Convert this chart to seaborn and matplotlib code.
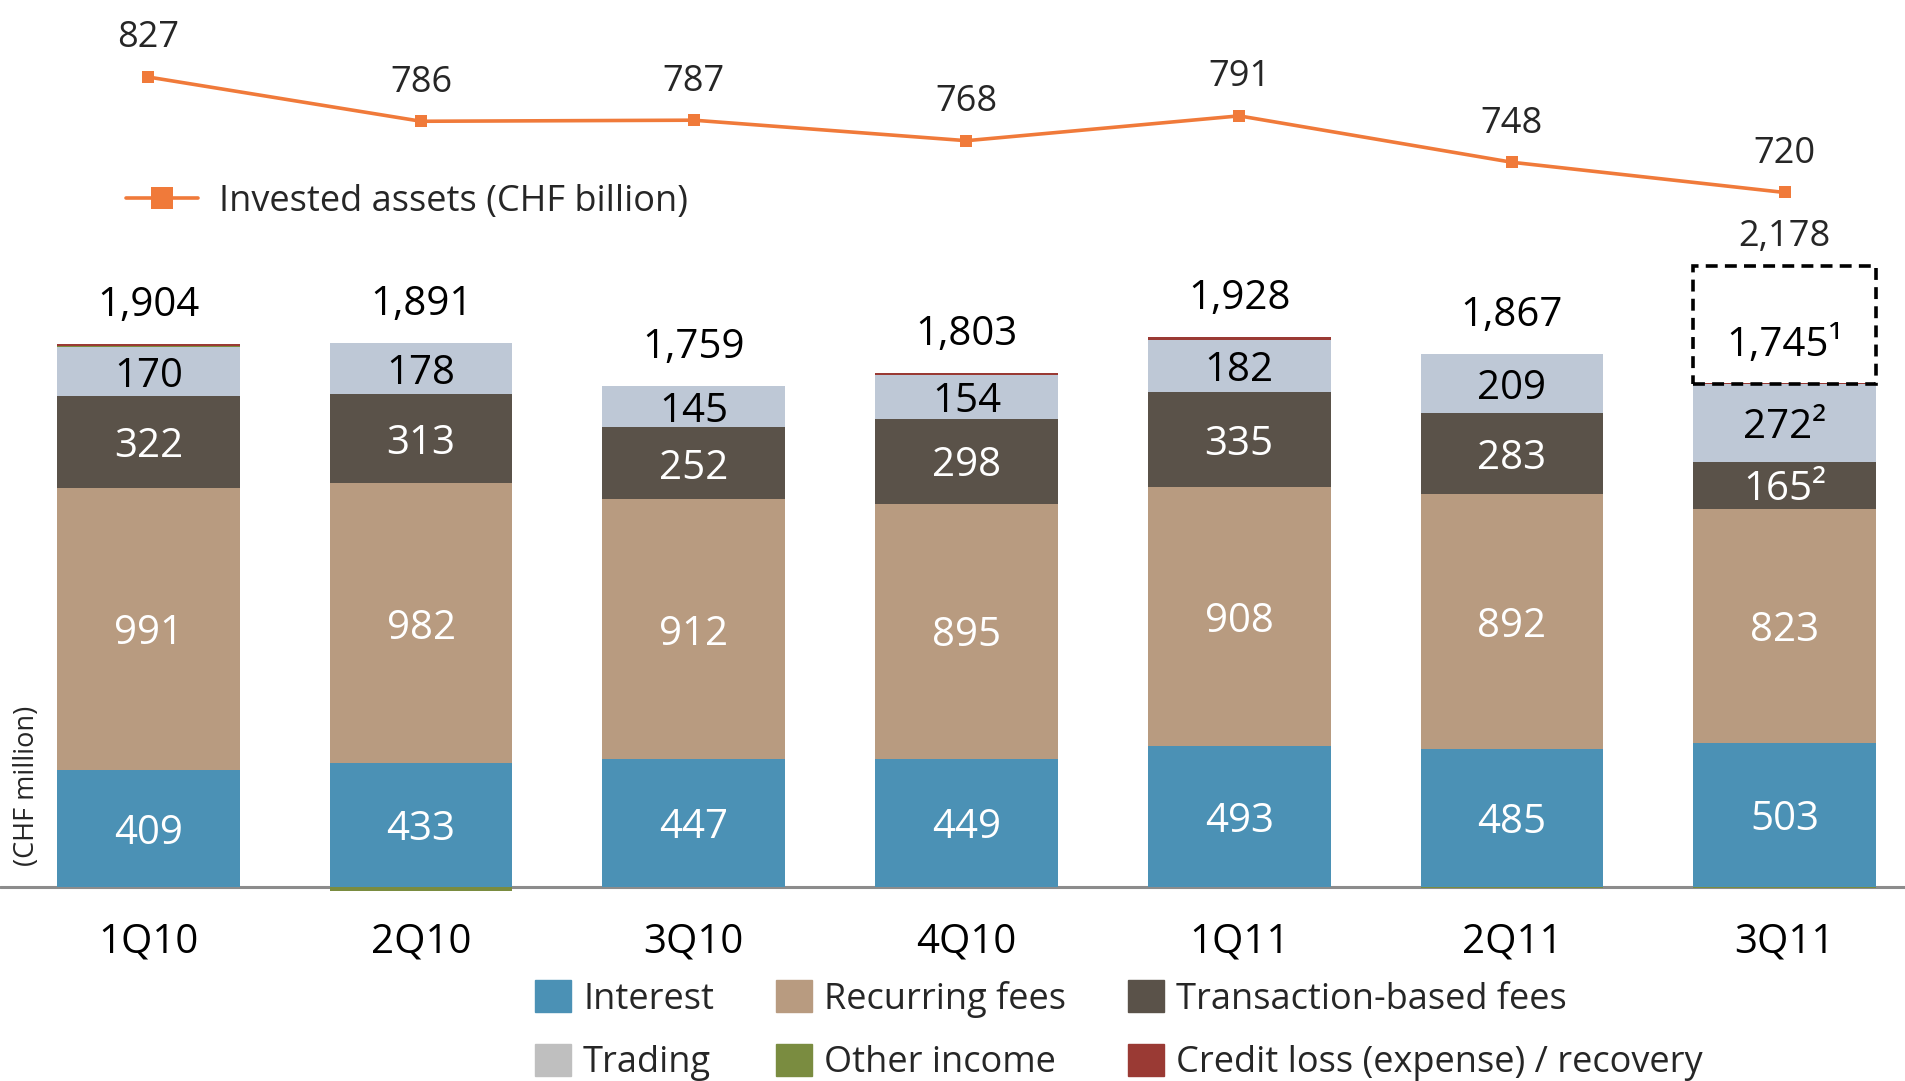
import numpy as np
import matplotlib
matplotlib.use("Agg")
import matplotlib.pyplot as plt
from matplotlib.patches import Patch
import seaborn as sns

# data (CHF million, invested assets in CHF billion)
quarters = ["1Q10", "2Q10", "3Q10", "4Q10", "1Q11", "2Q11", "3Q11"]
interest = [409, 433, 447, 449, 493, 485, 503]
recurring = [991, 982, 912, 895, 908, 892, 823]
transaction = [322, 313, 252, 298, 335, 283, 165]
trading = [170, 178, 145, 154, 182, 209, 272]
other_income = [3, -15, 0, 0, 0, -4, -4]
credit_loss = [9, 0, 0, 7, 10, 0, 3]
totals = [1904, 1891, 1759, 1803, 1928, 1867, 1745]
adjusted_total_3q11 = 2178
invested = [827, 786, 787, 768, 791, 748, 720]
footnote_total = ["", "", "", "", "", "", "1"]
footnote_seg = ["", "", "", "", "", "", "2"]

c_interest = "#4B91B5"
c_recurring = "#B89B80"
c_transaction = "#5A5249"
c_trading = "#BEC8D6"
c_trading_leg = "#BFBFBF"
c_other = "#7A8C40"
c_credit = "#9A3A34"
c_line = "#F07A3A"

sns.set_theme(style="white")
plt.rcParams["font.family"] = ["Open Sans", "DejaVu Sans"]

fig = plt.figure(figsize=(19.06, 10.81), dpi=100)
ax = fig.add_axes([0, 0.1742, 1, 0.8258])

series = [
    (interest, c_interest, "white"),
    (recurring, c_recurring, "white"),
    (transaction, c_transaction, "white"),
    (trading, c_trading, "black"),
    (other_income, c_other, None),
    (credit_loss, c_credit, None),
]

pos = np.zeros(len(quarters))
neg = np.zeros(len(quarters))
for vals, col, txt in series:
    v = np.array(vals, dtype=float)
    bottom = np.where(v >= 0, pos, neg)
    sns.barplot(x=quarters, y=v, bottom=bottom, color=col, saturation=1,
                width=0.67, linewidth=0, errorbar=None, ax=ax)
    if txt is not None:
        for i, val in enumerate(vals):
            label = f"{val}"
            if footnote_seg[i] and col in (c_trading, c_transaction):
                label += "\u00b2"
            ax.text(i, bottom[i] + val / 2, label, ha="center",
                    va="center_baseline", color=txt, fontsize=29)
    pos = np.where(v >= 0, pos + v, pos)
    neg = np.where(v < 0, neg + v, neg)

# total labels
stack_top = np.array(interest) + np.array(recurring) + np.array(transaction) + np.array(trading)
for i, t in enumerate(totals):
    if footnote_total[i]:
        continue
    ax.annotate(f"{t:,}", (i, pos[i]), xytext=(0, 31), textcoords="offset points",
                ha="center", va="center_baseline", fontsize=29, color="black")

# 3Q11 dashed box up to the adjusted total
i = len(quarters) - 1
ax.bar(i, adjusted_total_3q11 - stack_top[i], bottom=stack_top[i], width=0.67,
       fill=False, edgecolor="black", linewidth=2.6, linestyle=(0, (3.3, 2)))
ax.text(i, (stack_top[i] + adjusted_total_3q11) / 2 - 55, f"{totals[i]:,}\u00b9",
        ha="center", va="center_baseline", fontsize=29, color="black")
ax.annotate(f"{adjusted_total_3q11:,}", (i, adjusted_total_3q11), xytext=(0, 24),
            textcoords="offset points", ha="center", va="center_baseline",
            fontsize=26)

ax.axhline(0, color="#8C8C8C", linewidth=2.2, zorder=0.5)
ax.set_xlim(-0.544, 6.445)
ax.set_ylim(-20, 3109)
ax.set_xlabel("")
ax.set_ylabel("")
ax.set_yticks([])
ax.tick_params(axis="x", length=0, pad=21, labelsize=29, labelcolor="black")
for s in ax.spines.values():
    s.set_visible(False)

# invested assets line
ax2 = ax.twinx()
sns.lineplot(x=np.arange(len(quarters)), y=invested, ax=ax2, color=c_line,
             marker="s", markersize=9, markeredgewidth=0, linewidth=2.6,
             label="Invested assets (CHF billion)")
for j, v in enumerate(invested):
    ax2.annotate(f"{v}", (j, v), xytext=(0, 31), textcoords="offset points",
                 ha="center", va="center_baseline", fontsize=26)
ax2.set_ylim(71, 898.4)
ax2.set_yticks([])
ax2.set_ylabel("")
for s in ax2.spines.values():
    s.set_visible(False)
ax2.legend(loc="center left", bbox_to_anchor=(126 / 1906, 1 - 202 / 1081),
           bbox_transform=fig.transFigure, frameon=False, fontsize=26,
           borderpad=0, borderaxespad=0, handlelength=2.0, handletextpad=0.58,
           markerscale=1.8)

fig.text(27 / 1906, 1 - 786 / 1081, "(CHF million)", rotation=90,
         ha="center", va="center", fontsize=19.5)

# bottom legend (column-major order for a 3 x 2 grid)
handles = [
    Patch(color=c_interest, label="Interest"),
    Patch(color=c_trading_leg, label="Trading"),
    Patch(color=c_recurring, label="Recurring fees"),
    Patch(color=c_other, label="Other income"),
    Patch(color=c_transaction, label="Transaction-based fees"),
    Patch(color=c_credit, label="Credit loss (expense) / recovery"),
]
fig.legend(handles=handles, ncol=3, loc="upper left",
           bbox_to_anchor=(535 / 1906, 1 - 980 / 1081), frameon=False,
           fontsize=26, borderpad=0, borderaxespad=0, handlelength=1.0,
           handleheight=1.0, handletextpad=0.33, columnspacing=1.72,
           labelspacing=0.73)

fig.savefig("out.png", dpi=100)
